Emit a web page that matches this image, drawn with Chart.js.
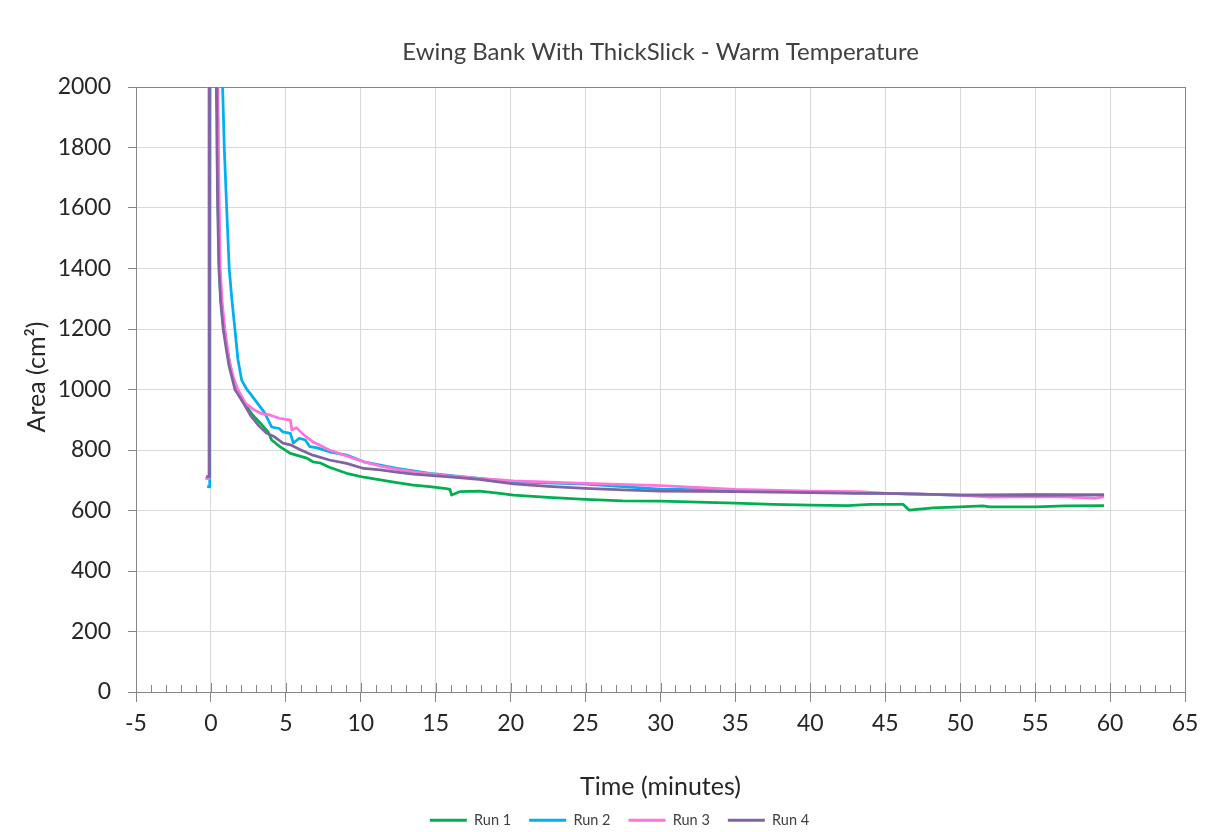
<!DOCTYPE html>
<html><head><meta charset="utf-8">
<script src="https://cdn.jsdelivr.net/npm/chart.js@4.4.0/dist/chart.umd.min.js"></script>
<style>html,body{margin:0;padding:0;background:#fff;}canvas{display:block;}</style>
</head><body>
<canvas id="c" width="1207" height="832"></canvas>
<script>
// ---- data ----
const run1Time = [-0.35,-0.12,-0.08,0.42,0.46,0.55,0.65,0.85,1.1,1.4,1.7,2.0,2.4,2.8,3.3,3.8,3.95,4.05,4.6,5.3,5.7,6.4,6.8,7.3,7.9,9.05,10.2,11.3,12.4,13.5,14.6,15.7,15.95,16.06,16.6,17.9,19.0,20.2,22.5,25,27.5,30,32.5,35,37.5,40,42.5,44,46.2,46.6,47.1,48.2,50,51.5,52,55,57,59.6];
const run1Area = [705,708,2700,1900,1650,1420,1300,1200,1130,1050,998,970,943,915,889,861,845,833,811,789,783,773,761,757,743,723,710,701,692,684,679,672,670,651,662,664,658,651,643,637,632,631,628,624,620,618,616,620,620,601,604,609,612,615,612,612,615,616];

const run2Time = [-0.25,-0.08,-0.05,0.7,0.78,0.89,1.05,1.22,1.4,1.6,1.8,2.05,2.4,2.6,3.1,3.6,4.05,4.55,4.8,5.3,5.5,5.9,6.3,6.6,7.1,7.9,9.05,10.2,11.3,12.4,14.6,17.9,20.2,25,30,35,40,45,50,55,59.6];
const run2Area = [680,678,2800,2150,2000,1800,1600,1400,1296,1200,1100,1031,1000,988,955,922,876,871,860,855,823,839,833,811,807,794,783,761,750,739,723,706,695,687,671,667,661,657,651,653,652];

const run3Time = [-0.35,-0.17,-0.14,0.45,0.5,0.56,0.62,0.75,0.93,1.2,1.5,1.8,2.3,2.9,3.4,3.9,4.55,5.3,5.4,5.7,6.2,6.8,7.9,9.05,10.2,11.3,12.4,13.5,14.6,15.7,17.9,20.2,25,30,35,40,43.3,45,50,52,55,57,59,59.6];
const run3Area = [705,705,2700,2100,1800,1600,1400,1290,1200,1100,1040,1000,955,932,920,916,905,899,866,874,850,827,800,780,761,747,736,728,721,715,706,698,690,682,670,664,662,657,651,644,646,645,640,646];

const run4Time = [-0.32,-0.12,-0.1,0.36,0.4,0.45,0.53,0.65,0.82,1.0,1.2,1.6,2.05,2.7,3.2,3.7,4.2,4.8,5.3,6.0,6.8,7.9,9.05,10.2,11.3,12.4,13.5,15.7,17.9,20.2,22.5,25,27.5,30,35,40,43,45,47.5,50,55,57.5,59.6];
const run4Area = [712,712,2700,2100,1800,1600,1400,1290,1200,1140,1080,1000,965,910,880,856,845,823,817,800,783,767,756,739,734,727,720,712,703,688,680,673,668,664,662,659,657,657,654,651,650,651,652];

const seriesNames = ['Run 1','Run 2','Run 3','Run 4'];
const seriesColors = ['#00B050','#00B0F0','#FF73DD','#8064A2'];
const xMin = -5, xMax = 65, xStep = 5;
const yMin = 0, yMax = 2000, yStep = 200;
const chartTitle = 'Ewing Bank With ThickSlick - Warm Temperature';
const xTitle = 'Time (minutes)';
const yTitle = 'Area (cm²)';

// ---- styling ----
const FONT = 'Lato, "Open Sans", sans-serif';
const AXIS = '#868686';
const GRID = '#D9D9D9';
const TXT = '#262626';

function pts(t, a){ return t.map((v,i)=>({x:v, y:a[i]})); }
const allTimes = [run1Time, run2Time, run3Time, run4Time];
const allAreas = [run1Area, run2Area, run3Area, run4Area];

const datasets = seriesNames.map((n,i)=>({
  label: n,
  data: pts(allTimes[i], allAreas[i]),
  borderColor: seriesColors[i],
  backgroundColor: seriesColors[i],
  borderWidth: 2.75,
  pointRadius: 0,
  tension: 0,
  borderJoinStyle: 'round',
  order: 4 - i
}));

const axisExtras = {
  id: 'axisExtras',
  afterDraw(chart){
    const xs = chart.scales.x, ys = chart.scales.y, ctx = chart.ctx;
    const y0 = Math.round(ys.getPixelForValue(yMin));
    ctx.save();
    ctx.strokeStyle = AXIS; ctx.lineWidth = 1;
    for (let t = xMin; t <= xMax; t++) {
      const px = Math.round(xs.getPixelForValue(t)) + 0.5;
      const len = (t % xStep === 0) ? 9 : 7;
      ctx.beginPath(); ctx.moveTo(px, y0); ctx.lineTo(px, y0 - len); ctx.stroke();
    }
    // y axis title
    ctx.fillStyle = TXT;
    ctx.font = '25px ' + FONT;
    ctx.textAlign = 'center'; ctx.textBaseline = 'middle';
    ctx.translate(37, 377);
    ctx.rotate(-Math.PI/2);
    ctx.fillText(yTitle, 0, 0);
    ctx.restore();
  }
};

new Chart(document.getElementById('c'), {
  type: 'line',
  data: { datasets },
  plugins: [axisExtras],
  options: {
    responsive: false,
    animation: false,
    devicePixelRatio: 1,
    layout: { padding: { left: 54, right: 22, top: 0, bottom: 0 } },
    plugins: {
      title: {
        display: true,
        fullSize: false,
        text: chartTitle,
        color: '#404040',
        font: { family: FONT, size: 24, weight: 'normal' },
        padding: { top: 37.6, bottom: 20.6 }
      },
      legend: {
        position: 'bottom',
        maxHeight: 37,
        labels: {
          boxWidth: 37, boxHeight: 3, padding: 18,
          color: '#404040',
          font: { family: FONT, size: 14.5 },
          generateLabels(chart){
            const items = Chart.defaults.plugins.legend.labels.generateLabels(chart);
            items.forEach(it=>{ it.lineWidth = 0; it.fillStyle = seriesColors[it.datasetIndex]; });
            items.sort((a,b)=>a.datasetIndex-b.datasetIndex);
            return items;
          }
        }
      },
      tooltip: { enabled: false }
    },
    scales: {
      x: {
        type: 'linear', min: xMin, max: xMax,
        ticks: { stepSize: xStep, padding: 8, color: TXT, font: { family: FONT, size: 23 }, maxRotation: 0, autoSkip: false, callback: v => String(v) },
        grid: { color: c => (c.tick && c.tick.value === xMax) ? AXIS : GRID, tickColor: AXIS, tickLength: 10 },
        border: { display: true, color: AXIS, width: 1 },
        title: { display: true, text: xTitle, color: TXT, font: { family: FONT, size: 25 }, padding: { top: 0, bottom: -7 } },
        afterFit(s){ const lg = s.chart.legend; s.height = s.chart.height - (lg ? lg.height : 0) - 692; }
      },
      y: {
        type: 'linear', min: yMin, max: yMax,
        ticks: { stepSize: yStep, padding: 17, color: TXT, font: { family: FONT, size: 23 }, callback: v => String(v) },
        grid: { color: c => (c.tick && c.tick.value === yMax) ? AXIS : GRID, tickColor: AXIS, tickLength: 8 },
        border: { display: true, color: AXIS, width: 1 },
        afterFit(s){ s.width = 136 - 54; }
      }
    }
  }
});
</script>
</body></html>
